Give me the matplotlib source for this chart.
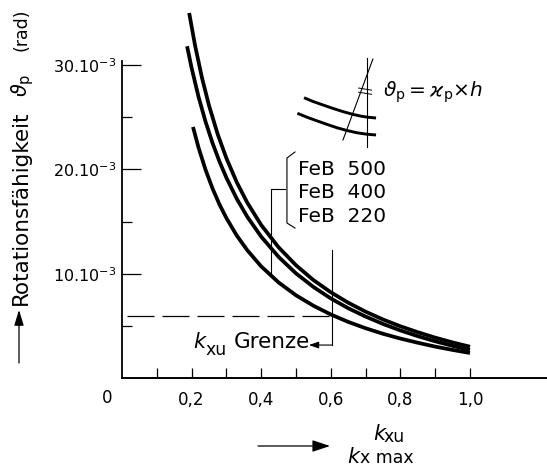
import matplotlib
matplotlib.use("Agg")
import matplotlib.pyplot as plt
from matplotlib.transforms import Affine2D
from matplotlib.patches import FancyArrowPatch
from matplotlib.lines import Line2D

W, H = 547, 467

# ---------------- data (x = k_xu / k_x max, y = rotation capacity in 10^-3 rad)
series_labels = ["FeB  500", "FeB  400", "FeB  220"]
feb500_x = [0.193, 0.21, 0.23, 0.25, 0.275, 0.30, 0.33, 0.36, 0.40, 0.45, 0.50,
            0.55, 0.60, 0.65, 0.70, 0.75, 0.80, 0.85, 0.90, 0.95, 1.00]
feb500_y = [35.0, 31.87, 28.76, 26.13, 23.37, 21.07, 18.75, 16.81, 14.67, 12.53, 10.81,
            9.39, 8.22, 7.22, 6.36, 5.61, 4.96, 4.39, 3.87, 3.41, 3.00]
feb400_x = [0.187, 0.20, 0.22, 0.24, 0.26, 0.28, 0.30, 0.33, 0.36, 0.40, 0.45, 0.50,
            0.55, 0.60, 0.65, 0.70, 0.75, 0.80, 0.85, 0.90, 0.95, 1.00]
feb400_y = [31.81, 29.73, 26.95, 24.58, 22.54, 20.76, 19.20, 17.17, 15.46, 13.55, 11.61, 10.03,
            8.73, 7.63, 6.69, 5.89, 5.18, 4.56, 4.01, 3.52, 3.08, 2.68]
feb220_x = [0.204, 0.22, 0.24, 0.26, 0.28, 0.30, 0.33, 0.36, 0.40, 0.45, 0.50,
            0.55, 0.60, 0.65, 0.70, 0.75, 0.80, 0.85, 0.90, 0.95, 1.00]
feb220_y = [24.07, 22.08, 19.97, 18.18, 16.65, 15.33, 13.65, 12.25, 10.70, 9.16, 7.93,
            6.93, 6.09, 5.38, 4.77, 4.24, 3.78, 3.38, 3.01, 2.69, 2.40]

xtick_major = [0.2, 0.4, 0.6, 0.8, 1.0]
xtick_labels = ["0,2", "0,4", "0,6", "0,8", "1,0"]
xtick_minor = [0.1, 0.3, 0.5, 0.7, 0.9]
ytick_major = [10, 20, 30]
ytick_labels = [r"$10.10^{-3}$", r"$20.10^{-3}$", r"$30.10^{-3}$"]
ytick_minor = [5, 15, 25]

kxu_limit_x = 0.603          # k_xu Grenze
kxu_limit_y = 5.94           # rotation at the limit (dashed line)

# inset sketch (curvature / rotation definition)
inset_a_x = [0.523, 0.550, 0.578, 0.607, 0.636, 0.660, 0.684, 0.707, 0.730]
inset_a_y = [26.87, 26.50, 26.17, 25.84, 25.53, 25.31, 25.12, 25.00, 24.93]
inset_b_x = [0.504, 0.531, 0.559, 0.588, 0.617, 0.645, 0.674, 0.702, 0.730]
inset_b_y = [25.38, 25.01, 24.67, 24.33, 24.00, 23.74, 23.52, 23.38, 23.30]

# ---------------- figure
fig = plt.figure(figsize=(W / 100, H / 100), dpi=100)
ax = fig.add_axes([122 / W, 1 - 378 / H, 425 / W, 378 / H])
ax.set_xlim(0, 425 / 348)
ax.set_ylim(0, 378 / 10.43)
for s in ("top", "right"):
    ax.spines[s].set_visible(False)
ax.spines["left"].set_bounds(0, 30.4)
ax.spines["left"].set_linewidth(1.3)
ax.spines["bottom"].set_linewidth(1.4)

ax.set_xticks(xtick_major, labels=xtick_labels)
ax.set_xticks(xtick_minor, minor=True)
ax.set_yticks(ytick_major, labels=ytick_labels)
ax.set_yticks(ytick_minor, minor=True)
ax.tick_params(axis="x", which="both", direction="in", length=7.2, width=0.9,
               pad=9.5, labelsize=12)
ax.tick_params(axis="y", which="major", direction="in", length=13.7, width=0.9,
               pad=4, labelsize=11.5)
ax.tick_params(axis="y", which="minor", direction="in", length=7.2, width=0.9)

# curves
for xs, ys in ((feb500_x, feb500_y), (feb400_x, feb400_y), (feb220_x, feb220_y)):
    ax.plot(xs, ys, color="k", lw=2.7, solid_capstyle="butt", solid_joinstyle="round")

# dashed limit line
ax.plot([0.015, kxu_limit_x], [kxu_limit_y, kxu_limit_y], color="k", lw=0.9,
        dashes=(21.6, 6.4))
# k_xu Grenze leader
ax.plot([kxu_limit_x, kxu_limit_x], [12.27, 3.16], color="k", lw=0.8)
ax.add_patch(FancyArrowPatch((kxu_limit_x, 3.16), (0.537, 3.16),
                             arrowstyle="-|>,head_length=0.58,head_width=0.2",
                             mutation_scale=10, lw=0.8, color="k",
                             shrinkA=0, shrinkB=0))
# FeB leader and bracket
ax.plot([0.468, 0.428, 0.428], [18.12, 18.12, 9.9], color="k", lw=0.8)
ax.plot([0.497, 0.474, 0.474, 0.497], [21.67, 21.09, 14.86, 14.38], color="k", lw=0.8)

# inset sketch
ax.plot(inset_a_x, inset_a_y, color="k", lw=2.1, solid_capstyle="butt")
ax.plot(inset_b_x, inset_b_y, color="k", lw=2.1, solid_capstyle="butt")
ax.plot([0.704, 0.704], [30.68, 22.15], color="k", lw=0.8)
ax.plot([0.721, 0.635], [30.58, 22.82], color="k", lw=0.8)
ax.plot([0.680, 0.717], [27.8, 27.6], color="k", lw=0.7)
ax.plot([0.680, 0.717], [27.4, 27.2], color="k", lw=0.7)

# ---------------- texts in pixel coordinates (from top-left)
pix = Affine2D().scale(1, -1).translate(0, H)


def t(x, y, s, size=15, **kw):
    fig.text(x, y, s, transform=pix, fontsize=size, va=kw.pop("va", "baseline"),
             ha=kw.pop("ha", "left"), **kw)


for lab, yb in zip(series_labels, (175, 198, 222)):
    t(298, yb, lab, 14.5)

t(193, 348, "k", 15, style="italic")
t(205, 355, "xu", 12.5)
t(234, 348, "Grenze", 15.5)

t(107, 403, "0", 12, ha="center")

# x axis title
t(373, 440, "k", 15, style="italic")
t(384, 442, "xu", 12.5)
fig.add_artist(Line2D([347, 418], [H - 445, H - 445], color="k", lw=0.9))
t(347, 463, "k", 15, style="italic")
t(360, 463, "x max", 12.5)
fig.add_artist(FancyArrowPatch((258, 446), (330, 446), transform=pix,
                               arrowstyle="-|>,head_length=1.08,head_width=0.36",
                               mutation_scale=10, lw=0.9, color="k",
                               shrinkA=0, shrinkB=0))

# y axis title
fig.add_artist(FancyArrowPatch((19, 363), (19, 310), transform=pix,
                               arrowstyle="-|>,head_length=0.94,head_width=0.29",
                               mutation_scale=10, lw=0.9, color="k",
                               shrinkA=0, shrinkB=0))
t(27, 305, "Rotationsfähigkeit", 15.5, rotation=90, rotation_mode="anchor")
t(27, 97, r"$\vartheta_{\mathrm{p}}$", 15, rotation=90, rotation_mode="anchor")
t(27, 51, "(rad)", 12.5, rotation=90, rotation_mode="anchor")

# inset formula
t(383, 97, r"$\vartheta_{\mathrm{p}}{=}ϰ_{\mathrm{p}}{\times}h$", 14.5)

fig.savefig("out.png", dpi=100)
